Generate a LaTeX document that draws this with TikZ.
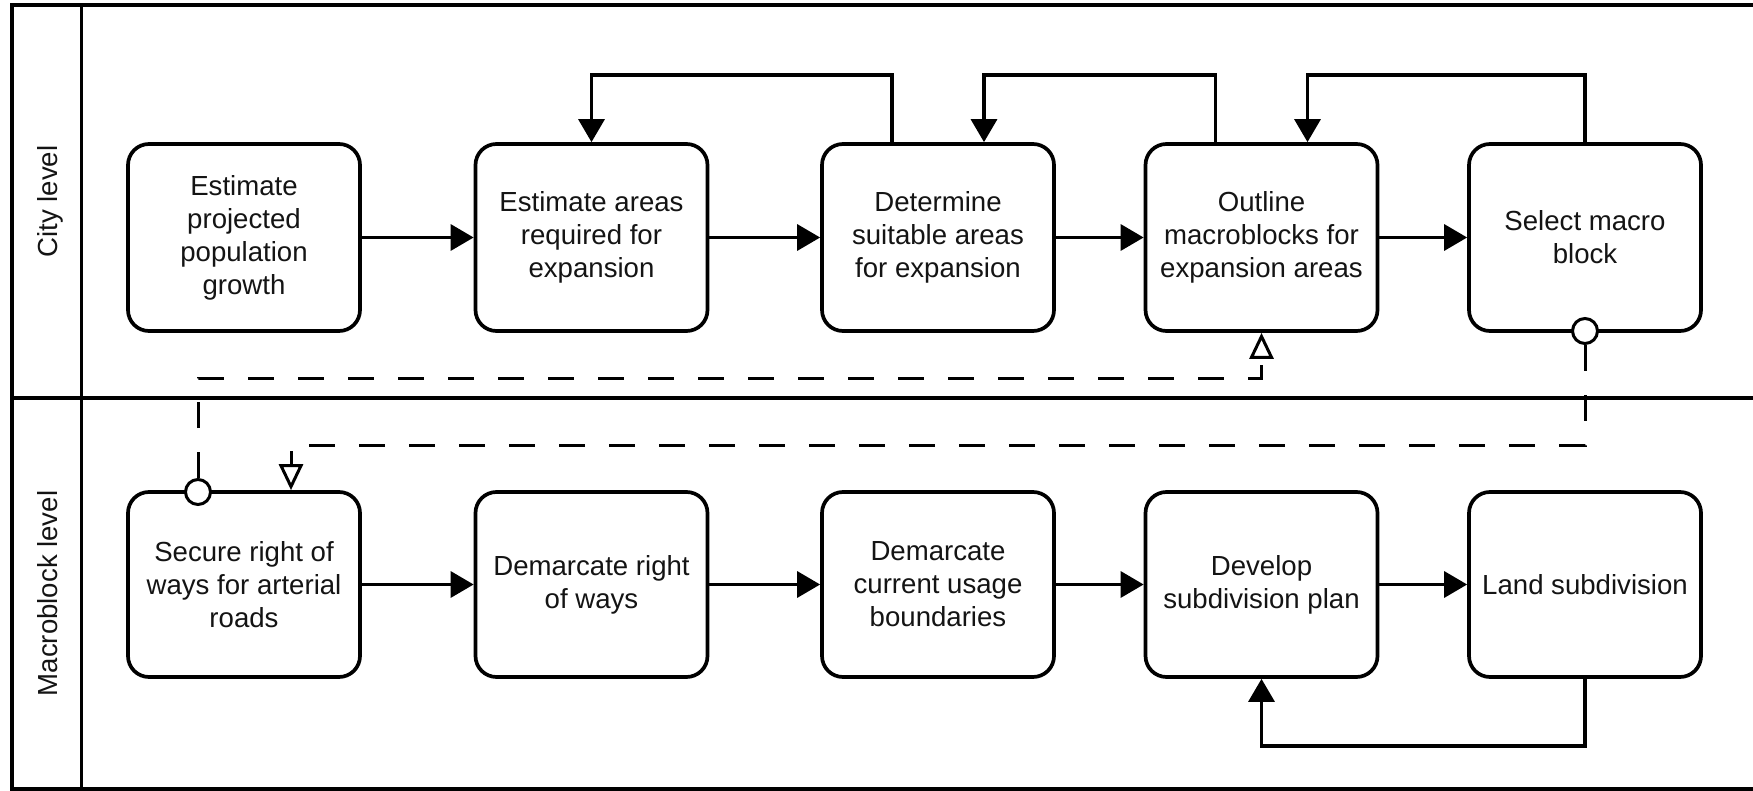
\documentclass[tikz,border=0pt]{standalone}
\usepackage{fontspec}
\setmainfont{Liberation Sans}
\usetikzlibrary{arrows.meta}

\begin{document}
\begin{tikzpicture}[x=1pt,y=-1pt,
  every node/.style={font=\fontsize{27.6}{33}\selectfont, text=black!92},
  task/.style={draw, line width=3.7pt, rounded corners=21pt, minimum width=232pt,
    minimum height=187pt, align=center, inner sep=0pt, fill=white},
  flow/.style={line width=3.3pt, -{Triangle[length=23pt,width=26pt]}},
  msg/.style={line width=3pt, dash pattern=on 26pt off 24pt,
    -{Triangle[fill=white,length=26pt,width=24pt,line width=3pt]}},
  port/.style={draw, circle, line width=3pt, fill=white, minimum size=25pt, inner sep=0pt},
  lanelabel/.style={rotate=90, anchor=base},
  frame/.style={line width=3.5pt}]
\useasboundingbox (0,0) rectangle (1753,791);

% pool with two lanes
\draw[frame] (12,5) rectangle (1775,789);
\draw[frame] (81.5,5) -- (81.5,789);
\draw[frame] (12,398) -- (1775,398);
\node[lanelabel] (lcity)  at (57,201.5) {City level};
\node[lanelabel] (lmacro) at (57,593.5) {Macroblock level};

% city level tasks
\node[task] (b1) at (244,237.5)   {Estimate\\projected\\population\\growth};
\node[task] (b2) at (591.5,237.5) {Estimate areas\\required for\\expansion};
\node[task] (b3) at (938,237.5)   {Determine\\suitable areas\\for expansion};
\node[task] (b4) at (1261.5,237.5){Outline\\macroblocks for\\expansion areas};
\node[task] (b5) at (1585,237.5)  {Select macro\\block};

% macroblock level tasks
\node[task, minimum height=185pt] (b6)  at (244,584.5)    {Secure right of\\ways for arterial\\roads};
\node[task, minimum height=185pt] (b7)  at (591.5,584.5)  {Demarcate right\\of ways};
\node[task, minimum height=185pt] (b8)  at (938,584.5)    {Demarcate\\current usage\\boundaries};
\node[task, minimum height=185pt] (b9)  at (1261.5,584.5) {Develop\\subdivision plan};
\node[task, minimum height=185pt] (b10) at (1585,584.5)   {Land subdivision};

% sequence flows
\draw[flow] (b1) -- (b2);
\draw[flow] (b2) -- (b3);
\draw[flow] (b3) -- (b4);
\draw[flow] (b4) -- (b5);
\draw[flow] (b6) -- (b7);
\draw[flow] (b7) -- (b8);
\draw[flow] (b8) -- (b9);
\draw[flow] (b9) -- (b10);

% loop-backs
\coordinate (f23) at (892,75);
\coordinate (f34) at (1215.5,75);
\coordinate (f45) at (1585,75);
\coordinate (f910) at (1585,746);
\draw[flow] (b3.north -| f23) -- (f23) -| (b2.north);
\draw[flow] (b4.north -| f34) -- (f34) -| ([xshift=46pt]b3.north);
\draw[flow] (b5.north) -- (f45) -| ([xshift=46pt]b4.north);
\draw[flow] (b10.south) -- (f910) -| (b9.south);

% message flows between the lanes
\node[port] (p6) at (198,492) {};
\node[port] (p5) at (1585,331) {};
\coordinate (m1) at (1261.5,378);
\coordinate (m2) at (291,445);
\draw[msg] (p6.north) |- (m1) -- (b4.south);
\draw[msg] (p5.south) |- (m2) -- (m2 |- b6.north);
\end{tikzpicture}
\end{document}
